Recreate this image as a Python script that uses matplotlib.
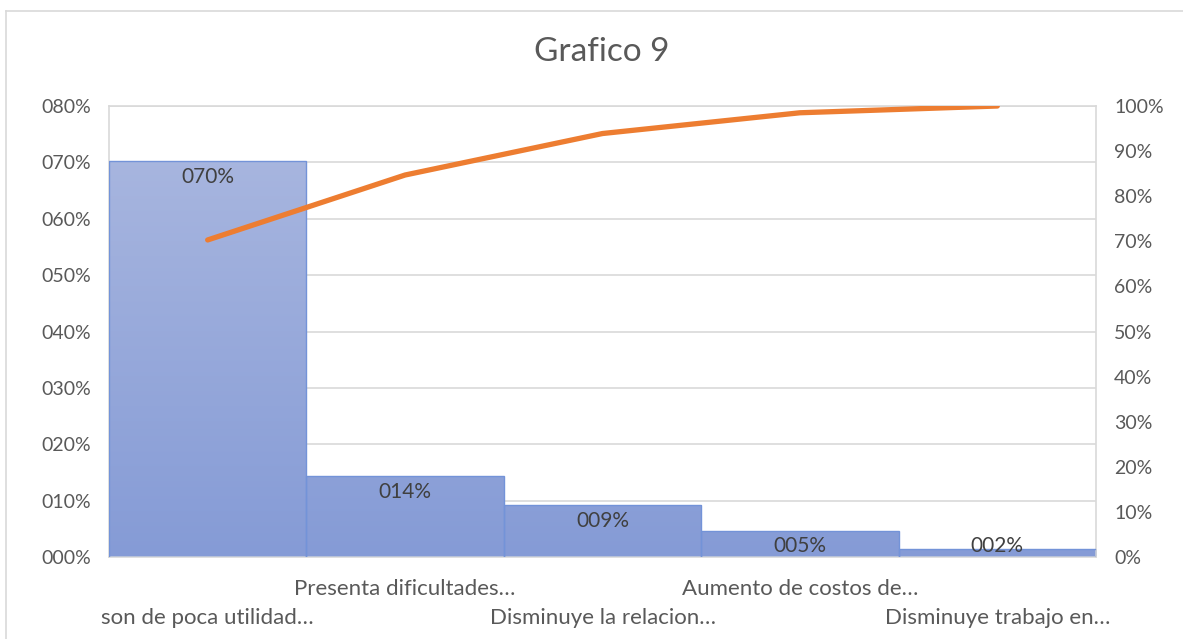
import numpy as np
import matplotlib
matplotlib.use("Agg")
import matplotlib.pyplot as plt
from matplotlib.colors import LinearSegmentedColormap
from matplotlib.lines import Line2D
from matplotlib.ticker import FuncFormatter

categories = [
    "son de poca utilidad…",
    "Presenta dificultades…",
    "Disminuye la relacion…",
    "Aumento de costos de…",
    "Disminuye trabajo en…",
]
shares = [0.703, 0.144, 0.092, 0.046, 0.015]
cumulative = [0.703, 0.847, 0.939, 0.985, 1.0]

plt.rcParams["font.family"] = ["Lato", "DejaVu Sans"]
grey = "#595959"
lightgrey = "#d9d9d9"

fig = plt.figure(figsize=(11.83, 6.39), dpi=100)
ax = fig.add_axes([0.0921, 0.1283, 0.8344, 0.7058])

x = np.arange(len(categories))
bars = ax.bar(x, shares, width=1.0, color="none", edgecolor="#7393d8",
              linewidth=1.0, zorder=3)

# vertical gradient fill clipped to each bar
cmap = LinearSegmentedColormap.from_list("g", ["#859bd6", "#acb9e0"])
grad = np.linspace(0, 1, 256).reshape(-1, 1)
for b in bars:
    im = ax.imshow(grad, cmap=cmap, origin="lower", aspect="auto",
                   extent=[-0.5, 4.5, 0, 0.8], zorder=2)
    im.set_clip_path(b)

ax.set_xlim(-0.5, 4.5)
ax.set_ylim(0, 0.8)
ax.set_yticks(np.arange(0, 0.81, 0.1))
ax.yaxis.set_major_formatter(FuncFormatter(lambda v, p: f"{v*100:03.0f}%"))
ax.grid(axis="y", color=lightgrey, linewidth=1.2, zorder=0)
ax.set_axisbelow(True)
for s in ax.spines.values():
    s.set_color(lightgrey)
    s.set_linewidth(1.2)
ax.tick_params(axis="y", length=0, pad=13, labelsize=14, labelcolor=grey)
ax.set_xticks(x)
ax.set_xticklabels(categories)
ax.tick_params(axis="x", length=0, labelsize=16, labelcolor=grey)
for i, t in enumerate(ax.xaxis.get_major_ticks()):
    t.set_pad(37 if i % 2 == 0 else 15.5)

# data labels (inside end, kept above the axis)
for xi, v in zip(x, shares):
    ax.annotate(f"{v*100:03.0f}%", xy=(xi, max(v, 0.048)), xytext=(0, -11.5),
                textcoords="offset points", ha="center", va="center",
                fontsize=15, color="#404040", zorder=5)

ax2 = ax.twinx()
ax2.plot(x, cumulative, color="#ed7d31", linewidth=3.8,
         solid_capstyle="round", solid_joinstyle="round", zorder=4)
ax2.set_ylim(0, 1.0)
ax2.set_yticks(np.arange(0, 1.01, 0.1))
ax2.yaxis.set_major_formatter(FuncFormatter(lambda v, p: f"{v*100:.0f}%"))
ax2.tick_params(axis="y", length=0, pad=13, labelsize=14, labelcolor=grey)
for s in ax2.spines.values():
    s.set_visible(False)

fig.text(0.509, 1 - 52 / 639, "Grafico 9", ha="center", va="center",
         fontsize=24, color=grey)

# chart area border
fig.add_artist(Line2D([6 / 1183, 6 / 1183], [-0.1, 1 - 11 / 639],
                      transform=fig.transFigure, color=lightgrey, linewidth=1.2))
fig.add_artist(Line2D([6 / 1183, 1.1], [1 - 11 / 639, 1 - 11 / 639],
                      transform=fig.transFigure, color=lightgrey, linewidth=1.2))

fig.savefig("out.png", dpi=100)
